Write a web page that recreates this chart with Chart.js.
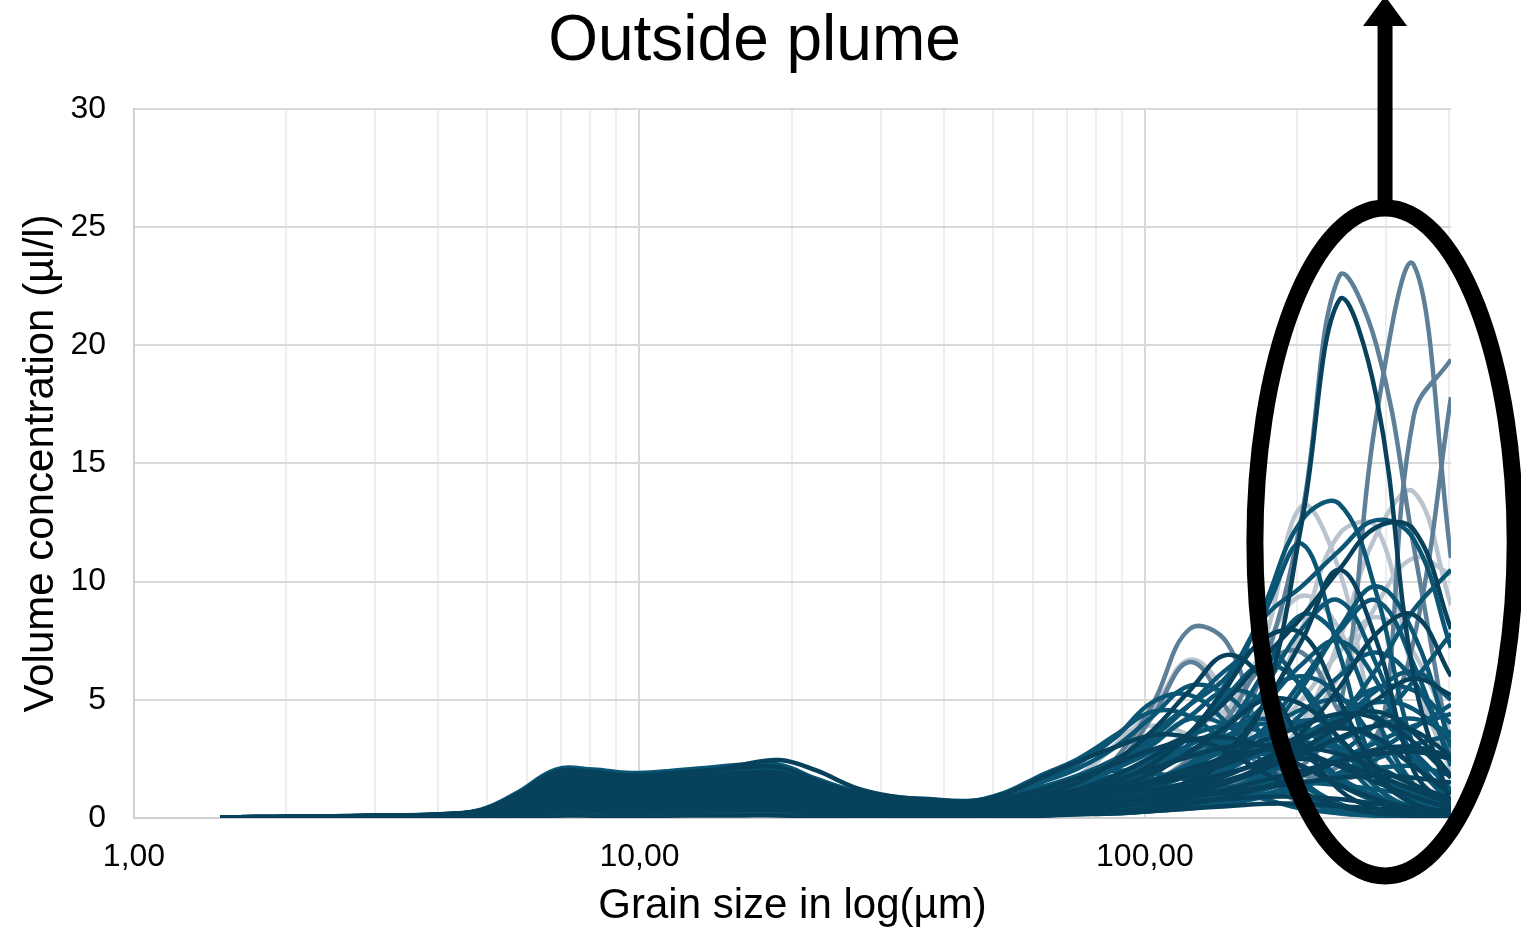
<!DOCTYPE html>
<html>
<head>
<meta charset="utf-8">
<title>Outside plume</title>
<script src="https://cdn.jsdelivr.net/npm/chart.js@4/dist/chart.umd.min.js"></script>
<style>
  html, body { margin: 0; padding: 0; background: #fff; }
  #wrap { width: 1521px; height: 936px; }
</style>
</head>
<body>
<div id="wrap"><canvas id="psd" width="1521" height="936"></canvas></div>
<script>
// LISST size classes (µm), log spaced
const grainSize = [1.48, 1.754, 2.079, 2.465, 2.921, 3.462, 4.104, 4.862, 5.763, 6.83, 8.094, 9.594, 11.37, 13.48, 15.97, 18.93, 22.44, 26.59, 31.52, 37.35, 44.27, 52.47, 62.19, 73.71, 87.36, 103.5, 122.7, 145.4, 172.4, 204.3, 242.1, 287.0, 340.1, 403.1];

// gridlines on the log axis, only the decades get a label
const sizeTicks = [1, 2, 3, 4, 5, 6, 7, 8, 9, 10, 20, 30, 40, 50, 60, 70, 80, 90, 100, 200, 300, 400];
const labelledSizes = [1, 10, 100];

// volume concentration (µl/l) per size class, one row per sample
const navyRuns = [
  [0.01,0.01,0.02,0.02,0.03,0.04,0.05,0.11,0.33,0.62,0.62,0.57,0.59,0.64,0.68,0.68,0.5,0.35,0.27,0.24,0.22, 0.3,0.4,0.5,0.7,1.0,1.5,2.6,5.0,12.5,21.9,17.8,6.0,0.5],
  [0.03,0.04,0.05,0.06,0.08,0.11,0.15,0.3,0.95,1.8,1.82,1.7,1.75,1.95,2.25,2.45,2.0,1.3,0.92,0.78,0.7, 0.85,1.2,1.7,2.3,2.9,3.3,3.4,3.0,2.2,1.4,0.8,0.4,0.2],
  [0.01,0.02,0.02,0.03,0.04,0.05,0.08,0.16,0.5,0.92,0.92,0.86,0.89,0.95,1.01,1.01,0.74,0.52,0.41,0.36,0.32, 0.35,0.4,0.5,0.7,1.0,1.6,2.8,4.8,7.5,10.5,7.5,2.0,0.4],
  [0.03,0.03,0.04,0.06,0.08,0.1,0.14,0.3,0.94,1.74,1.74,1.62,1.68,1.8,1.91,1.91,1.4,0.98,0.77,0.68,0.61, 0.7,0.85,1.1,1.5,2.3,3.6,5.6,7.6,7.8,5.0,2.0,0.6,0.2],
  [0.02,0.03,0.04,0.05,0.06,0.08,0.12,0.25,0.77,1.44,1.44,1.33,1.39,1.48,1.58,1.58,1.16,0.81,0.63,0.56,0.5, 0.7,1.0,1.5,2.4,3.7,5.4,6.9,5.8,3.2,1.2,0.4,0.1,0.05],
  [0.02,0.02,0.03,0.04,0.05,0.06,0.09,0.18,0.55,1.03,1.03,0.95,0.99,1.06,1.13,1.13,0.83,0.58,0.45,0.4,0.36, 0.35,0.35,0.4,0.5,0.7,1.0,1.5,2.3,3.6,5.5,7.8,8.6,6.0],
  [0.02,0.02,0.03,0.04,0.05,0.07,0.1,0.21,0.66,1.23,1.23,1.14,1.19,1.27,1.35,1.35,0.99,0.69,0.54,0.48,0.43, 0.45,0.5,0.6,0.75,1.0,1.3,1.8,2.5,3.3,4.1,4.5,3.6,1.8],
  [0.03,0.04,0.05,0.07,0.09,0.11,0.16,0.33,1.04,1.95,1.95,1.8,1.88,2.01,2.14,2.14,1.57,1.09,0.86,0.76,0.68, 1.0,1.7,2.4,3.0,3.5,3.4,2.8,1.9,1.1,0.5,0.2,0.1,0.05],
  [0.01,0.02,0.02,0.03,0.04,0.05,0.07,0.14,0.44,0.82,0.82,0.76,0.79,0.85,0.9,0.9,0.66,0.46,0.36,0.32,0.29, 0.4,0.6,0.9,1.3,1.9,2.8,3.9,5.0,4.8,3.4,1.7,0.6,0.2],
  [0,0.01,0.01,0.01,0.01,0.02,0.03,0.05,0.17,0.31,0.31,0.29,0.3,0.32,0.34,0.34,0.25,0.17,0.14,0.12,0.11, 0.2,0.3,0.4,0.5,0.6,0.7,0.8,0.9,0.9,0.8,0.6,0.4,0.3],
  [0.01,0.01,0.01,0.02,0.02,0.03,0.04,0.09,0.28,0.51,0.51,0.48,0.5,0.53,0.56,0.56,0.41,0.29,0.23,0.2,0.18, 0.2,0.2,0.25,0.3,0.4,0.6,0.9,1.3,1.8,2.4,2.9,3.0,2.6],
  [0,0,0,0,0,0.01,0.01,0.02,0.06,0.1,0.1,0.1,0.1,0.11,0.11,0.11,0.08,0.06,0.05,0.04,0.04, 0.05,0.1,0.15,0.2,0.3,0.4,0.5,0.6,0.6,0.5,0.4,0.3,0.2],
  [0.02,0.03,0.04,0.06,0.07,0.1,0.14,0.28,0.88,1.64,1.64,1.52,1.58,1.7,1.8,1.8,1.32,0.92,0.72,0.64,0.58, 0.65,0.75,0.9,1.1,1.4,1.8,2.3,2.9,3.4,3.8,3.4,2.2,1.0],
  [0.02,0.03,0.03,0.05,0.06,0.08,0.11,0.23,0.72,1.33,1.33,1.24,1.29,1.38,1.46,1.46,1.07,0.75,0.59,0.52,0.47, 0.5,0.6,0.75,0.95,1.2,1.5,1.9,2.3,2.5,2.3,1.8,1.2,0.6],
  [0.01,0.01,0.02,0.02,0.03,0.04,0.06,0.12,0.39,0.72,0.72,0.67,0.69,0.74,0.79,0.79,0.58,0.4,0.32,0.28,0.25, 0.5,0.8,1.2,1.8,2.6,3.6,5.0,6.8,8.5,10.5,12.3,12.2,8.0],
  [0.02,0.02,0.03,0.04,0.05,0.07,0.09,0.19,0.61,1.13,1.13,1.05,1.09,1.17,1.24,1.24,0.91,0.63,0.5,0.44,0.4, 0.4,0.4,0.5,0.6,0.8,1.1,1.5,2.1,2.9,3.9,5.0,5.9,5.2],
  [0.02,0.02,0.03,0.04,0.05,0.07,0.09,0.19,0.61,1.13,1.13,1.05,1.09,1.17,1.24,1.24,0.91,0.63,0.5,0.44,0.4, 0.5,0.6,0.8,1.1,1.5,2.0,2.5,2.9,3.0,2.7,2.1,1.4,0.8],
  [0.01,0.01,0.02,0.02,0.03,0.04,0.05,0.11,0.33,0.62,0.62,0.57,0.59,0.64,0.68,0.68,0.5,0.35,0.27,0.24,0.22, 0.25,0.3,0.4,0.5,0.7,0.9,1.2,1.6,2.0,2.4,2.7,2.8,2.5],
  [0.02,0.03,0.04,0.05,0.07,0.09,0.13,0.26,0.83,1.54,1.54,1.43,1.49,1.59,1.69,1.69,1.24,0.86,0.68,0.6,0.54, 0.7,0.9,1.2,1.6,2.1,2.6,3.0,3.1,2.8,2.2,1.5,0.9,0.4],
  [0.01,0.01,0.01,0.01,0.02,0.02,0.03,0.07,0.22,0.41,0.41,0.38,0.4,0.42,0.45,0.45,0.33,0.23,0.18,0.16,0.14, 0.2,0.3,0.4,0.5,0.7,0.9,1.1,1.3,1.5,1.7,1.8,1.7,1.5],
  [0.01,0.02,0.02,0.03,0.04,0.05,0.07,0.14,0.44,0.82,0.82,0.76,0.79,0.85,0.9,0.9,0.66,0.46,0.36,0.32,0.29, 0.35,0.4,0.5,0.7,0.9,1.2,1.6,2.1,2.7,3.4,3.9,3.7,2.6],
  [0.02,0.03,0.03,0.05,0.06,0.08,0.11,0.23,0.72,1.33,1.33,1.24,1.29,1.38,1.46,1.46,1.07,0.75,0.59,0.52,0.47, 0.55,0.7,0.9,1.2,1.6,2.1,2.6,3.3,3.9,4.4,4.2,3.2,1.7]
];

const tealRuns = [
  [0.01,0.02,0.02,0.03,0.04,0.05,0.07,0.14,0.44,0.82,0.82,0.76,0.79,0.85,0.9,0.9,0.66,0.46,0.36,0.32,0.29, 0.4,0.6,0.9,1.4,2.2,3.5,5.5,9.0,12.6,13.3,9.5,3.0,0.6],
  [0.02,0.02,0.03,0.04,0.05,0.06,0.09,0.18,0.55,1.03,1.03,0.95,0.99,1.06,1.13,1.13,0.83,0.58,0.45,0.4,0.36, 0.6,0.9,1.5,2.4,3.6,4.8,6.0,8.5,9.8,11.3,12.6,11.8,7.2],
  [0.02,0.02,0.03,0.04,0.05,0.07,0.09,0.19,0.61,1.13,1.13,1.05,1.09,1.17,1.24,1.24,0.91,0.63,0.5,0.44,0.4, 0.45,0.55,0.75,1.1,1.8,3.2,5.8,8.7,11.6,7.0,2.0,0.6,0.2],
  [0.02,0.02,0.03,0.04,0.05,0.07,0.1,0.21,0.66,1.23,1.23,1.14,1.19,1.27,1.35,1.35,0.99,0.69,0.54,0.48,0.43, 0.45,0.5,0.55,0.7,0.9,1.4,2.2,3.5,5.5,8.0,9.8,7.8,3.0],
  [0.02,0.03,0.04,0.05,0.07,0.09,0.13,0.26,0.83,1.54,1.54,1.43,1.49,1.59,1.69,1.69,1.24,0.86,0.68,0.6,0.54, 0.55,0.6,0.7,0.9,1.3,2.0,3.3,5.5,8.0,9.2,6.5,2.5,0.6],
  [0.03,0.04,0.05,0.07,0.09,0.12,0.17,0.35,1.1,2.05,2.05,1.9,1.98,2.12,2.25,2.25,1.65,1.15,0.9,0.8,0.72, 0.9,1.3,1.8,2.5,3.4,4.8,6.3,7.2,5.5,2.8,1.0,0.3,0.1],
  [0.03,0.04,0.05,0.06,0.08,0.11,0.15,0.32,0.99,1.85,1.85,1.71,1.78,1.91,2.03,2.03,1.49,1.04,0.81,0.72,0.65, 0.95,1.5,2.1,3.0,4.3,5.6,5.2,3.4,1.6,0.6,0.2,0.1,0.05],
  [0.03,0.03,0.04,0.06,0.08,0.1,0.14,0.3,0.94,1.74,1.74,1.62,1.68,1.8,1.91,1.91,1.4,0.98,0.77,0.68,0.61, 1.0,1.6,2.3,3.4,4.9,5.2,4.0,2.3,1.0,0.4,0.1,0.05,0],
  [0.03,0.04,0.05,0.07,0.09,0.11,0.16,0.33,1.04,1.95,1.95,1.8,1.88,2.01,2.14,2.14,1.57,1.09,0.86,0.76,0.68, 1.05,1.8,2.5,3.5,4.5,4.3,3.1,1.8,0.8,0.3,0.1,0.05,0],
  [0.01,0.02,0.02,0.03,0.04,0.05,0.08,0.16,0.5,0.92,0.92,0.86,0.89,0.95,1.01,1.01,0.74,0.52,0.41,0.36,0.32, 0.3,0.3,0.35,0.45,0.6,0.85,1.2,1.9,2.8,4.0,5.4,6.2,5.0],
  [0.01,0.01,0.02,0.02,0.03,0.04,0.05,0.11,0.33,0.62,0.62,0.57,0.59,0.64,0.68,0.68,0.5,0.35,0.27,0.24,0.22, 0.2,0.2,0.25,0.3,0.4,0.55,0.8,1.2,1.8,2.7,4.0,5.8,7.8],
  [0.02,0.03,0.04,0.05,0.06,0.08,0.12,0.25,0.77,1.44,1.44,1.33,1.39,1.48,1.58,1.58,1.16,0.81,0.63,0.56,0.5, 0.55,0.6,0.75,0.95,1.3,1.9,2.7,3.7,4.6,5.0,4.3,2.8,1.2],
  [0.02,0.03,0.04,0.06,0.07,0.1,0.14,0.28,0.88,1.64,1.64,1.52,1.58,1.7,1.8,1.8,1.32,0.92,0.72,0.64,0.58, 0.7,0.85,1.1,1.5,2.0,2.8,3.5,4.0,3.7,2.8,1.7,0.8,0.3],
  [0.02,0.02,0.03,0.04,0.05,0.07,0.1,0.21,0.66,1.23,1.23,1.14,1.19,1.27,1.35,1.35,0.99,0.69,0.54,0.48,0.43, 0.6,0.9,1.3,1.8,2.4,2.9,3.2,2.9,2.2,1.4,0.7,0.3,0.1],
  [0.01,0.01,0.01,0.01,0.02,0.02,0.03,0.07,0.22,0.41,0.41,0.38,0.4,0.42,0.45,0.45,0.33,0.23,0.18,0.16,0.14, 0.3,0.4,0.5,0.7,0.9,1.1,1.3,1.5,1.5,1.4,1.2,1.0,0.8],
  [0.02,0.03,0.03,0.05,0.06,0.08,0.11,0.23,0.72,1.33,1.33,1.24,1.29,1.38,1.46,1.46,1.07,0.75,0.59,0.52,0.47, 0.5,0.65,0.9,1.3,1.9,2.8,4.0,5.3,6.0,5.2,3.2,1.3,0.4],
  [0.03,0.04,0.05,0.06,0.08,0.11,0.15,0.32,0.99,1.85,1.85,1.71,1.78,1.91,2.03,2.03,1.49,1.04,0.81,0.72,0.65, 0.8,1.1,1.6,2.3,3.2,4.3,5.4,4.9,3.3,1.7,0.7,0.2,0.1],
  [0.01,0.01,0.02,0.02,0.03,0.04,0.06,0.12,0.39,0.72,0.72,0.67,0.69,0.74,0.79,0.79,0.58,0.4,0.32,0.28,0.25, 0.2,0.25,0.3,0.4,0.6,0.8,1.2,1.8,2.8,4.2,6.3,8.8,10.5],
  [0.02,0.02,0.03,0.04,0.05,0.06,0.09,0.18,0.55,1.03,1.03,0.95,0.99,1.06,1.13,1.13,0.83,0.58,0.45,0.4,0.36, 0.35,0.4,0.45,0.6,0.9,1.3,2.0,3.0,4.4,6.0,7.0,5.8,2.5],
  [0.02,0.03,0.04,0.05,0.07,0.09,0.13,0.26,0.83,1.54,1.54,1.43,1.49,1.59,1.69,1.69,1.24,0.86,0.68,0.6,0.54, 0.9,1.3,1.7,2.0,1.9,1.6,1.2,0.8,0.4,0.2,0.1,0.05,0],
  [0.01,0.01,0.01,0.02,0.02,0.03,0.04,0.09,0.28,0.51,0.51,0.48,0.5,0.53,0.56,0.56,0.41,0.29,0.23,0.2,0.18, 0.15,0.15,0.2,0.2,0.3,0.4,0.6,0.9,1.3,1.9,2.8,3.8,4.8],
  [0,0,0.01,0.01,0.01,0.01,0.02,0.04,0.11,0.21,0.21,0.19,0.2,0.21,0.23,0.23,0.17,0.12,0.09,0.08,0.07, 0.1,0.1,0.2,0.2,0.3,0.5,0.7,1.0,1.4,1.8,2.1,2.2,1.8],
  [0.02,0.02,0.03,0.04,0.05,0.07,0.09,0.19,0.61,1.13,1.13,1.05,1.09,1.17,1.24,1.24,0.91,0.63,0.5,0.44,0.4, 0.4,0.45,0.55,0.7,1.0,1.5,2.4,3.8,5.8,7.9,9.2,6.5,2.2],
  [0.03,0.03,0.04,0.06,0.08,0.1,0.14,0.3,0.94,1.74,1.74,1.62,1.68,1.8,1.91,1.91,1.4,0.98,0.77,0.68,0.61, 0.65,0.75,0.9,1.2,1.6,2.3,3.3,4.8,6.5,7.5,5.8,2.5,0.7],
  [0.02,0.03,0.04,0.05,0.06,0.08,0.12,0.25,0.77,1.44,1.44,1.33,1.39,1.48,1.58,1.58,1.16,0.81,0.63,0.56,0.5, 0.6,0.8,1.1,1.6,2.4,3.6,5.2,6.5,5.6,3.3,1.3,0.4,0.1],
  [0.01,0.02,0.02,0.03,0.04,0.05,0.07,0.14,0.44,0.82,0.82,0.76,0.79,0.85,0.9,0.9,0.66,0.46,0.36,0.32,0.29, 0.3,0.35,0.4,0.5,0.7,1.0,1.5,2.2,3.2,4.4,5.5,5.4,4.0],
  [0.02,0.02,0.03,0.04,0.05,0.07,0.09,0.19,0.61,1.13,1.13,1.05,1.09,1.17,1.24,1.24,0.91,0.63,0.5,0.44,0.4, 0.6,0.9,1.4,2.1,3.1,4.2,3.9,2.7,1.4,0.6,0.2,0.1,0],
  [0.01,0.02,0.02,0.03,0.04,0.05,0.08,0.16,0.5,0.92,0.92,0.86,0.89,0.95,1.01,1.01,0.74,0.52,0.41,0.36,0.32, 0.35,0.45,0.6,0.9,1.4,2.3,3.8,6.2,8.6,7.6,4.2,1.4,0.4],
  [0,0.01,0.01,0.01,0.01,0.02,0.03,0.05,0.17,0.31,0.31,0.29,0.3,0.32,0.34,0.34,0.25,0.17,0.14,0.12,0.11, 0.1,0.15,0.2,0.25,0.35,0.5,0.7,1.0,1.4,1.9,2.5,3.1,3.5],
  [0.02,0.02,0.03,0.04,0.05,0.07,0.1,0.21,0.66,1.23,1.23,1.14,1.19,1.27,1.35,1.35,0.99,0.69,0.54,0.48,0.43, 0.6,0.8,1.1,1.6,2.3,3.1,3.8,4.2,3.9,3.0,1.9,1.0,0.4],
  [0.02,0.03,0.04,0.05,0.06,0.08,0.12,0.25,0.77,1.44,1.44,1.33,1.39,1.48,1.58,1.58,1.16,0.81,0.63,0.56,0.5, 0.6,0.7,0.9,1.2,1.6,2.2,2.9,3.6,4.1,4.0,3.3,2.2,1.1],
  [0.01,0.01,0.02,0.02,0.03,0.04,0.06,0.12,0.39,0.72,0.72,0.67,0.69,0.74,0.79,0.79,0.58,0.4,0.32,0.28,0.25, 0.3,0.35,0.45,0.6,0.8,1.1,1.5,2.0,2.6,3.3,3.9,4.2,3.6],
  [0.02,0.03,0.04,0.06,0.07,0.1,0.14,0.28,0.88,1.64,1.64,1.52,1.58,1.7,1.8,1.8,1.32,0.92,0.72,0.64,0.58, 0.8,1.1,1.5,2.1,2.8,3.5,3.9,3.6,2.7,1.7,0.9,0.4,0.2],
  [0.01,0.02,0.02,0.03,0.04,0.05,0.08,0.16,0.5,0.92,0.92,0.86,0.89,0.95,1.01,1.01,0.74,0.52,0.41,0.36,0.32, 0.4,0.5,0.6,0.8,1.1,1.5,2.1,2.8,3.5,4.3,4.9,4.6,3.2],
  [0.02,0.02,0.03,0.04,0.05,0.06,0.09,0.18,0.55,1.03,1.03,0.95,0.99,1.06,1.13,1.13,0.83,0.58,0.45,0.4,0.36, 0.45,0.55,0.7,0.95,1.3,1.8,2.4,3.0,3.2,2.9,2.2,1.4,0.7],
  [0.01,0.01,0.01,0.02,0.02,0.03,0.04,0.09,0.28,0.51,0.51,0.48,0.5,0.53,0.56,0.56,0.41,0.29,0.23,0.2,0.18, 0.2,0.25,0.3,0.4,0.55,0.75,1.0,1.4,1.9,2.5,3.2,3.9,4.4],
  [0.03,0.04,0.05,0.06,0.08,0.11,0.15,0.32,0.99,1.85,1.85,1.71,1.78,1.91,2.03,2.03,1.49,1.04,0.81,0.72,0.65, 0.85,1.1,1.4,1.8,2.3,2.7,2.9,2.7,2.2,1.5,0.9,0.5,0.2]
];

const greyBlueRuns = [
  [0.01,0.01,0.01,0.01,0.02,0.02,0.03,0.07,0.22,0.41,0.41,0.38,0.4,0.42,0.45,0.45,0.33,0.23,0.18,0.16,0.14, 0.2,0.3,0.4,0.6,0.9,1.5,3.0,6.5,12.8,22.9,20.0,11.5,2.5],
  [0,0.01,0.01,0.01,0.01,0.02,0.03,0.05,0.17,0.31,0.31,0.29,0.3,0.32,0.34,0.34,0.25,0.17,0.14,0.12,0.11, 0.15,0.2,0.3,0.4,0.6,0.9,1.4,1.8,2.2,4.5,17.0,23.4,11.0],
  [0.01,0.01,0.01,0.02,0.02,0.03,0.04,0.09,0.28,0.51,0.51,0.48,0.5,0.53,0.56,0.56,0.41,0.29,0.23,0.2,0.18, 0.2,0.2,0.3,0.4,0.5,0.7,1.0,1.5,1.8,1.6,2.5,17.0,19.4],
  [0,0,0.01,0.01,0.01,0.01,0.02,0.04,0.11,0.21,0.21,0.19,0.2,0.21,0.23,0.23,0.17,0.12,0.09,0.08,0.07, 0.1,0.15,0.2,0.3,0.4,0.5,0.7,1.0,1.5,2.2,3.5,7.5,17.8],
  [0.01,0.01,0.02,0.02,0.03,0.04,0.05,0.11,0.33,0.62,0.62,0.57,0.59,0.64,0.68,0.68,0.5,0.35,0.27,0.24,0.22, 0.5,0.8,1.3,2.5,4.8,8.0,7.4,3.0,1.0,0.4,0.2,0.1,0],
  [0.01,0.01,0.02,0.02,0.03,0.04,0.06,0.12,0.39,0.72,0.72,0.67,0.69,0.74,0.79,0.79,0.58,0.4,0.32,0.28,0.25, 0.5,0.8,1.2,2.2,4.3,6.6,4.6,1.8,0.6,0.2,0.1,0,0],
  [0.01,0.01,0.01,0.01,0.02,0.02,0.03,0.07,0.22,0.41,0.41,0.38,0.4,0.42,0.45,0.45,0.33,0.23,0.18,0.16,0.14, 0.3,0.4,0.6,0.9,1.5,2.5,4.2,6.5,7.0,4.5,2.0,0.8,0.3]
];

const lightGreyRuns = [
  [0.01,0.01,0.01,0.01,0.02,0.02,0.03,0.07,0.22,0.41,0.41,0.38,0.4,0.42,0.45,0.45,0.33,0.23,0.18,0.16,0.14, 0.3,0.4,0.6,0.9,1.4,2.4,4.2,7.5,13.2,10.5,4.0,1.2,0.4],
  [0,0.01,0.01,0.01,0.01,0.02,0.03,0.05,0.17,0.31,0.31,0.29,0.3,0.32,0.34,0.34,0.25,0.17,0.14,0.12,0.11, 0.2,0.3,0.4,0.5,0.7,1.0,1.5,2.4,4.0,7.5,12.0,13.8,9.0],
  [0.01,0.01,0.01,0.02,0.02,0.03,0.04,0.09,0.28,0.51,0.51,0.48,0.5,0.53,0.56,0.56,0.41,0.29,0.23,0.2,0.18, 0.2,0.3,0.4,0.6,0.9,1.4,2.5,4.5,8.0,12.0,12.3,6.0,2.0],
  [0.01,0.01,0.02,0.02,0.03,0.04,0.05,0.11,0.33,0.62,0.62,0.57,0.59,0.64,0.68,0.68,0.5,0.35,0.27,0.24,0.22, 0.8,1.3,1.8,3.1,4.6,6.7,5.2,2.4,1.0,0.4,0.2,0.1,0.05],
  [0.01,0.02,0.02,0.03,0.04,0.05,0.07,0.14,0.44,0.82,0.82,0.76,0.79,0.85,0.9,0.9,0.66,0.46,0.36,0.32,0.29, 0.3,0.4,0.6,0.9,1.5,2.6,4.5,7.2,9.4,8.0,4.0,1.5,0.5],
  [0.01,0.01,0.01,0.01,0.02,0.02,0.03,0.07,0.22,0.41,0.41,0.38,0.4,0.42,0.45,0.45,0.33,0.23,0.18,0.16,0.14, 0.2,0.3,0.3,0.4,0.6,0.9,1.4,2.3,3.8,6.0,9.0,11.0,10.3],
  [0.01,0.01,0.02,0.02,0.03,0.04,0.06,0.12,0.39,0.72,0.72,0.67,0.69,0.74,0.79,0.79,0.58,0.4,0.32,0.28,0.25, 0.5,0.8,1.2,1.8,2.6,3.6,4.6,5.0,4.0,2.5,1.2,0.5,0.2],
  [0.01,0.01,0.02,0.02,0.03,0.04,0.05,0.11,0.33,0.62,0.62,0.57,0.59,0.64,0.68,0.68,0.5,0.35,0.27,0.24,0.22, 1.0,1.6,2.4,3.4,3.9,3.5,2.5,1.4,0.7,0.3,0.1,0.05,0],
  [0.01,0.01,0.01,0.02,0.02,0.03,0.04,0.09,0.28,0.51,0.51,0.48,0.5,0.53,0.56,0.56,0.41,0.29,0.23,0.2,0.18, 0.2,0.3,0.4,0.5,0.8,1.2,2.0,3.3,5.0,7.0,8.5,7.0,3.5]
];

// black ring around the coarse fraction, in data units
const ringSizes = [165, 540];
const ringConcentration = [-2.45, 25.8];

const font = "'Liberation Sans', Arial, sans-serif";

// first dataset is painted last, so the dark runs sit on top
const groups = [
  { runs: navyRuns, colour: "#07415b" },
  { runs: tealRuns, colour: "#0b5675" },
  { runs: greyBlueRuns, colour: "#5e7f98" },
  { runs: lightGreyRuns, colour: "#b9c4ce" }
];

const datasets = [];
groups.forEach((g) => {
  g.runs.forEach((run) => {
    datasets.push({
      data: run.map((v, i) => ({ x: grainSize[i], y: v })),
      borderColor: g.colour,
      borderWidth: 4.5,
      pointRadius: 0,
      tension: 0.4,
      fill: false,
      yAxisID: "y"
    });
  });
});

const coarseRing = {
  id: "coarseRing",
  afterDraw(chart) {
    const { ctx, scales } = chart;
    const left = scales.x.getPixelForValue(ringSizes[0]);
    const right = scales.x.getPixelForValue(ringSizes[1]);
    const bottom = scales.y.getPixelForValue(ringConcentration[0]);
    const top = scales.y.getPixelForValue(ringConcentration[1]);
    const cx = (left + right) / 2;
    const cy = (top + bottom) / 2;
    ctx.save();
    ctx.strokeStyle = "#000";
    ctx.lineWidth = 17;
    ctx.beginPath();
    ctx.ellipse(cx, cy, (right - left) / 2, (bottom - top) / 2, 0, 0, Math.PI * 2);
    ctx.stroke();
    // arrow pointing up off the chart
    ctx.fillStyle = "#000";
    ctx.fillRect(cx - 7.5, 24, 15, top - 24);
    ctx.beginPath();
    ctx.moveTo(cx - 22, 26);
    ctx.lineTo(cx + 22, 26);
    ctx.lineTo(cx, -4);
    ctx.closePath();
    ctx.fill();
    ctx.restore();
  }
};

new Chart(document.getElementById("psd"), {
  type: "line",
  data: { datasets },
  plugins: [coarseRing],
  options: {
    responsive: false,
    animation: false,
    devicePixelRatio: 1,
    layout: { padding: { left: 0, right: 12, top: 0, bottom: 0 } },
    plugins: {
      legend: { display: false },
      tooltip: { enabled: false },
      title: {
        display: true,
        text: "Outside plume",
        color: "#000",
        font: { family: font, size: 64, weight: "normal" },
        padding: { top: 4, bottom: 28 }
      }
    },
    scales: {
      x: {
        type: "logarithmic",
        min: 1,
        max: grainSize[grainSize.length - 1],
        afterBuildTicks: (scale) => {
          scale.ticks = sizeTicks.map((v) => ({ value: v }));
        },
        afterFit: (scale) => {
          scale.height = 118;
        },
        ticks: {
          autoSkip: false,
          maxRotation: 0,
          padding: 20,
          color: "#000",
          font: { family: font, size: 32 },
          callback: (v) => (labelledSizes.includes(v) ? v.toFixed(2).replace(".", ",") : "")
        },
        grid: {
          drawTicks: false,
          lineWidth: 2,
          color: (c) => (c.tick && labelledSizes.includes(c.tick.value) ? "#d9d9d9" : "#eeeeee")
        },
        border: { color: "#d0d0d0", width: 2 },
        title: {
          display: true,
          text: "Grain size in log(µm)",
          color: "#000",
          font: { family: font, size: 42 },
          padding: { top: 0, bottom: 4 }
        }
      },
      y: {
        min: 0,
        max: 30,
        afterFit: (scale) => {
          scale.width = 134;
        },
        ticks: {
          stepSize: 5,
          padding: 28,
          color: "#000",
          font: { family: font, size: 32 }
        },
        grid: { drawTicks: false, lineWidth: 2, color: "#d9d9d9" },
        border: { color: "#d0d0d0", width: 2 },
        title: {
          display: true,
          text: "Volume concentration (µl/l)",
          color: "#000",
          font: { family: font, size: 42 },
          padding: { top: 16, bottom: 0 }
        }
      },
      // empty strip on the right that keeps the plot clear of the ring
      gutter: {
        position: "right",
        afterFit: (scale) => {
          scale.width = 58;
        },
        ticks: { display: false },
        grid: { display: false },
        border: { display: false }
      }
    }
  }
});
</script>
</body>
</html>
